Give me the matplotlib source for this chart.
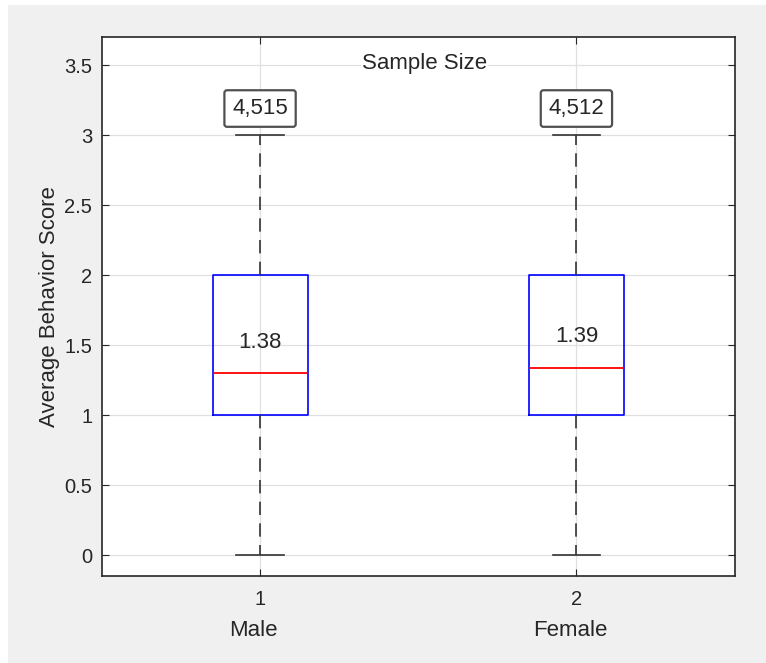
import matplotlib
matplotlib.use("Agg")
import matplotlib.pyplot as plt
from matplotlib.patches import Rectangle

plt.rcParams["font.family"] = ["Liberation Sans", "DejaVu Sans"]

# box statistics per group
groups = ["Male", "Female"]
positions = [1, 2]
q1 = [1.0, 1.0]
medians = [1.30, 1.34]
q3 = [2.0, 2.0]
whis_lo = [0.0, 0.0]
whis_hi = [3.0, 3.0]
means = [1.38, 1.39]
sample_sizes = [4515, 4512]

fig = plt.figure(figsize=(7.66, 6.63), dpi=100, facecolor="#f0f0f0")
# thin white strip on the left / top edge of the screenshot
fig.patches.append(Rectangle((0, 0), 8 / 766, 1, transform=fig.transFigure,
                             fc="white", ec="none"))
fig.patches.append(Rectangle((0, 1 - 5 / 663), 1, 5 / 663, transform=fig.transFigure,
                             fc="white", ec="none"))

ax = fig.add_axes([0.133, 0.131, 0.826, 0.813])

stats = []
for i in range(len(groups)):
    stats.append({"med": medians[i], "q1": q1[i], "q3": q3[i],
                  "whislo": whis_lo[i], "whishi": whis_hi[i], "fliers": []})

ax.bxp(stats, positions=positions, widths=0.3, showfliers=False,
       boxprops=dict(color="blue", linewidth=1.2),
       medianprops=dict(color="red", linewidth=1.3),
       whiskerprops=dict(color="#333333", linewidth=1.2, linestyle=(0, (8, 5))),
       capprops=dict(color="#333333", linewidth=1.2),
       capwidths=0.15)

for i, p in enumerate(positions):
    ax.text(p, medians[i] + 0.22, f"{means[i]:.2f}", ha="center", va="center",
            fontsize=16, color="#262626")
    ax.text(p, whis_hi[i] + 0.19, f"{sample_sizes[i]:,}", ha="center", va="center",
            fontsize=16, color="#262626",
            bbox=dict(boxstyle="round,pad=0.35,rounding_size=0.12", fc="white",
                      ec="#505050", lw=1.6))

ax.text(1.52, 3.51, "Sample Size", ha="center", va="center", fontsize=16,
        color="#262626", bbox=dict(fc="white", ec="none", pad=1))

ax.set_xlim(0.5, 2.5)
ax.set_ylim(-0.15, 3.7)
ax.set_xticks(positions)
ax.set_xticklabels([str(p) for p in positions])
ax.set_yticks([0, 0.5, 1, 1.5, 2, 2.5, 3, 3.5])
ax.set_yticklabels(["0", "0.5", "1", "1.5", "2", "2.5", "3", "3.5"])
ax.grid(True, color="#e0e0e0", linewidth=0.9)
ax.set_axisbelow(True)
ax.tick_params(direction="in", top=True, right=True, length=5, labelsize=14.5,
               colors="#262626")
ax.tick_params(axis="x", pad=10)
ax.tick_params(axis="y", pad=7)
for s in ax.spines.values():
    s.set_color("#262626")
    s.set_linewidth(1.2)

for p, g in zip(positions, groups):
    ax.text(p - 0.02, -0.1, g, transform=ax.get_xaxis_transform(), ha="center",
            va="center", fontsize=16, color="#262626")

ax.set_ylabel("Average Behavior Score", fontsize=16, color="#262626", labelpad=3)

fig.savefig("out.png", dpi=100, facecolor=fig.get_facecolor())
